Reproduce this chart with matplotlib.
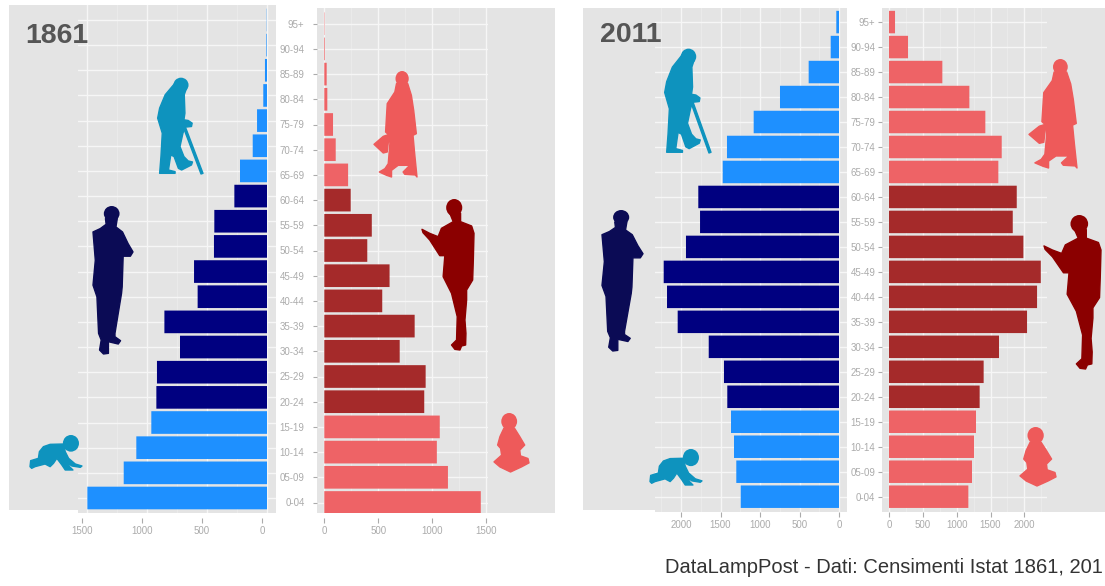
import numpy as np
from matplotlib import pyplot as plt
from matplotlib.patches import Polygon, Ellipse, Rectangle

plt.rcParams['font.family'] = ['Liberation Sans', 'DejaVu Sans']

# age classes, youngest first
ages = ['0-04', '05-09', '10-14', '15-19', '20-24', '25-29', '30-34', '35-39', '40-44', '45-49',
        '50-54', '55-59', '60-64', '65-69', '70-74', '75-79', '80-84', '85-89', '90-94', '95+']

male_1861 = [1497, 1194, 1089, 964, 922, 917, 725, 855, 578, 608,
             442, 439, 272, 225, 119, 83, 31, 17, 5, 2]
female_1861 = [1453, 1148, 1045, 1072, 928, 941, 700, 839, 538, 606,
               399, 441, 245, 221, 106, 81, 28, 22, 6, 3]
male_2011 = [1244, 1300, 1329, 1367, 1414, 1456, 1649, 2042, 2177, 2219,
             1937, 1759, 1781, 1472, 1418, 1080, 747, 384, 105, 34]
female_2011 = [1172, 1226, 1256, 1285, 1339, 1398, 1625, 2039, 2187, 2242,
               1985, 1828, 1887, 1615, 1665, 1423, 1187, 788, 281, 89]

ticks_1861 = [0, 500, 1000, 1500]
ticks_2011 = [0, 500, 1000, 1500, 2000]

W, H = 1105, 586
GRAY = '#E4E4E4'
TICK = '#ABABAB'

fig = plt.figure(figsize=(W / 100, H / 100), dpi=100)


def px_axes(left, right, top, bottom, zorder=1):
    return fig.add_axes([left / W, 1 - bottom / H, (right - left) / W, (bottom - top) / H], zorder=zorder)


bg = px_axes(0, W, 0, H, zorder=0)
bg.set_xlim(0, W)
bg.set_ylim(H, 0)
bg.axis('off')
over = px_axes(0, W, 0, H, zorder=5)
over.set_xlim(0, W)
over.set_ylim(H, 0)
over.axis('off')
over.patch.set_alpha(0)


def panel(values, ticks, left, right, top, bottom, base, scale, y0, dy, young, adult,
          tick_top, tick_shift=0, show_ages=False, age_pad=0):
    ax = px_axes(left, right, top, bottom, zorder=2)
    ax.set_facecolor(GRAY)
    pos = np.arange(len(ages))
    colors = [adult if 4 <= i <= 12 else young for i in pos]
    bars = ax.barh(pos, values, height=0.9, color=colors, zorder=3)
    for b in bars:
        b.set_snap(False)
    ax.set_xticks(ticks)
    ax.set_xticks([t + 250 for t in ticks], minor=True)
    ax.set_yticks(pos)
    # limits after the ticks, set_xticks widens the view otherwise
    ax.set_xlim((left - base) / scale, (right - base) / scale)
    ax.set_ylim((y0 - bottom) / dy, (y0 - top) / dy)
    ax.grid(which='major', color='#F6F6F6', lw=1.0, zorder=1)
    ax.grid(which='minor', axis='x', color='#EBEBEB', lw=0.7, zorder=1)
    ax.tick_params(which='both', axis='x', length=0, labelbottom=False)
    for s in ax.spines.values():
        s.set_visible(False)
    if show_ages:
        ax.set_yticklabels(ages)
        ax.tick_params(axis='y', length=3, color=TICK, labelcolor=TICK, labelsize=7, pad=age_pad, width=0.8)
    else:
        ax.tick_params(axis='y', length=0, labelleft=False)

    # the x scale sits a little apart from the panel
    tk = px_axes(left + tick_shift, right + tick_shift, tick_top - 2, tick_top, zorder=2)
    tk.patch.set_alpha(0)
    tk.set_xticks(ticks)
    tk.set_yticks([])
    tk.set_xlim(ax.get_xlim())
    tk.tick_params(axis='x', length=3.5, color=TICK, labelcolor=TICK, labelsize=7, pad=2, width=0.8)
    for s in tk.spines.values():
        s.set_visible(False)


# grey strips that extend the panels
bg.add_patch(Rectangle((9, 5), 70, 505, color=GRAY, lw=0))
bg.add_patch(Rectangle((487, 8), 68, 505, color=GRAY, lw=0))
bg.add_patch(Rectangle((583, 8), 72, 502, color=GRAY, lw=0))
bg.add_patch(Rectangle((1046, 8), 59, 503.7, color=GRAY, lw=0))

panel(male_1861, ticks_1861, 78, 276, 5, 513, 267, -0.12, 498, 25.16, '#1E90FF', '#000080', 518, tick_shift=-5)
panel(female_1861, ticks_1861, 317, 488, 8, 513, 324.3, 0.1077, 502.5, 25.2, '#EE6366', '#A52A2A', 518,
      show_ages=True, age_pad=6)
panel(male_2011, ticks_2011, 654.7, 847.3, 8, 512, 839, -0.079, 496.7, 24.98, '#1E90FF', '#000080', 512)
panel(female_2011, ticks_2011, 882.3, 1046.7, 8, 511.7, 889, 0.0677, 496.7, 24.98, '#EE6366', '#A52A2A', 512,
      show_ages=True, age_pad=2)

# silhouettes, outlines in their own coordinates
old_man = dict(
    box=(470, 235, 610, 522), head=(543, 256, 23, 22),
    polys=[[(525, 250), (560, 265), (553, 285), (555, 340), (552, 360), (565, 362), (577, 370), (575, 380), (555, 382),
            (549, 400), (540, 440), (552, 470), (565, 483), (578, 486), (575, 495), (545, 510), (535, 505), (522, 470),
            (512, 465), (508, 490), (505, 510), (525, 515), (525, 520), (478, 520), (482, 470), (486, 400), (472, 355),
            (478, 325), (495, 285)],
           [(546, 372), (552, 370), (610, 520), (604, 522)]])
old_woman = dict(
    box=(312, 212, 442, 530), head=(397, 235, 20, 23),
    polys=[[(380, 250), (414, 250), (425, 285), (432, 330), (440, 400), (430, 405), (435, 460), (442, 530), (437, 524),
            (405, 522), (400, 515), (420, 495), (385, 495), (365, 510), (365, 530), (350, 525), (328, 515), (345, 505),
            (355, 490), (360, 430), (358, 405), (347, 395), (352, 310), (375, 275)],
           [(312, 432), (340, 408), (358, 402), (352, 455), (340, 458)]])
man = dict(
    box=(278, 617, 400, 1062), head=(335, 640, 24, 23),
    polys=[[(316, 655), (352, 655), (348, 680), (368, 695), (385, 730), (400, 755), (392, 768), (370, 768), (367, 860),
            (365, 880), (345, 1000), (345, 1010), (362, 1022), (355, 1032), (325, 1025), (325, 1060), (310, 1062),
            (298, 1050), (303, 1020), (295, 1000), (290, 890), (278, 855), (285, 780), (278, 695), (300, 685),
            (318, 672)]])
woman = dict(
    box=(457, 597, 612, 1050), head=(553, 623, 24, 26),
    polys=[[(540, 640), (572, 640), (572, 665), (605, 678), (612, 700), (610, 780), (608, 840), (590, 870), (590, 900),
            (585, 960), (588, 1000), (587, 1035), (575, 1038), (570, 1050), (555, 1048), (545, 1035), (560, 1020),
            (562, 950), (545, 880), (520, 830), (525, 767), (510, 767), (480, 720), (460, 698), (457, 688), (480, 700),
            (505, 710), (515, 685), (550, 665)]])
crawler = dict(
    box=(90, 435, 245, 540), head=(212, 460, 24, 25),
    polys=[[(150, 463), (190, 462), (195, 485), (205, 505), (225, 522), (245, 528), (240, 532), (215, 528), (200, 518),
            (208, 530), (218, 540), (195, 540), (185, 525), (170, 505), (160, 520), (150, 530), (135, 522), (105, 530),
            (95, 535), (90, 530), (92, 512), (115, 505), (118, 485), (130, 470)]])
sitter = dict(
    box=(672, 370, 778, 545), head=(718, 395, 24, 25),
    polys=[[(702, 415), (734, 415), (750, 440), (765, 465), (750, 480), (752, 497), (775, 505), (778, 518), (755, 530),
            (722, 545), (690, 530), (672, 515), (695, 495), (692, 475), (683, 465), (690, 440)]])


def put(shape, x0, y0, x1, y1, color):
    bx0, by0, bx1, by1 = shape['box']
    sx = (x1 - x0) / (bx1 - bx0)
    sy = (y1 - y0) / (by1 - by0)
    for poly in shape['polys']:
        p = np.array(poly, dtype=float)
        p[:, 0] = x0 + (p[:, 0] - bx0) * sx
        p[:, 1] = y0 + (p[:, 1] - by0) * sy
        over.add_patch(Polygon(p, closed=True, facecolor=color, edgecolor=color, lw=1.0, joinstyle='round'))
    cx, cy, rx, ry = shape['head']
    over.add_patch(Ellipse((x0 + (cx - bx0) * sx, y0 + (cy - by0) * sy), 2 * rx * sx, 2 * ry * sy, color=color, lw=0))


TEAL = '#0E93BE'
NAVY = '#0B0B55'
SALMON = '#EE5A5A'
DARKRED = '#8B0000'

put(old_man, 157, 78, 203, 174, TEAL)
put(man, 93, 206, 133, 354, NAVY)
put(crawler, 30, 435, 82, 470, TEAL)
put(old_woman, 374, 71, 417, 177, SALMON)
put(woman, 422, 199, 474, 350, DARKRED)
put(sitter, 494, 413, 529, 472, SALMON)
put(old_man, 664, 49, 711, 153, TEAL)
put(man, 602, 210, 643, 351, NAVY)
put(crawler, 650, 449, 702, 485, TEAL)
put(old_woman, 1029, 59, 1077, 168, SALMON)
put(woman, 1044, 215, 1101, 369, DARKRED)
put(sitter, 1020, 427, 1056, 486, SALMON)

over.text(25, 43, '1861', fontsize=20.5, fontweight='bold', color='#555555', va='baseline')
over.text(600, 42, '2011', fontsize=20.5, fontweight='bold', color='#555555', va='baseline')
over.text(665, 573, 'DataLampPost - Dati: Censimenti Istat 1861, 201', fontsize=14.5, color='#333333',
          va='baseline')

fig.savefig('out.png', dpi=100)
